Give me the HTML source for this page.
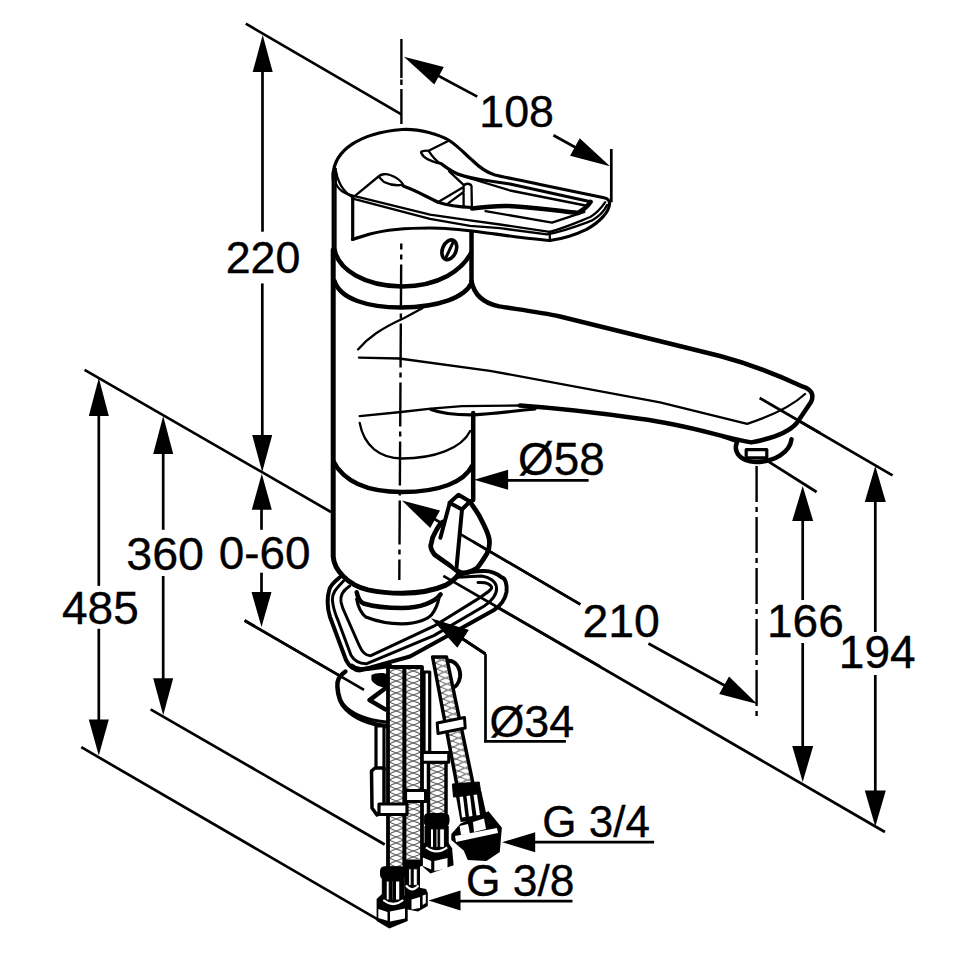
<!DOCTYPE html>
<html><head><meta charset="utf-8"><style>
html,body{margin:0;padding:0;background:#fff;width:970px;height:970px;overflow:hidden}
svg{display:block}
text{font-family:"Liberation Sans",sans-serif;fill:#000;stroke:#000;stroke-width:0.35px}
</style></head><body>
<svg width="970" height="970" viewBox="0 0 970 970">
<defs>
<pattern id="bA" x="389" y="0" width="14.5" height="6" patternUnits="userSpaceOnUse"><rect width="14.5" height="6" fill="#fff"/><path d="M0,0 L14.5,6 M14.5,0 L0,6" stroke="#222" stroke-width="0.8" fill="none"/><path d="M1,5.5 Q7.25,0.5 13.5,5.5" stroke="#888" stroke-width="0.8" fill="none"/></pattern>
<pattern id="bB" x="405.5" y="2" width="15.5" height="6" patternUnits="userSpaceOnUse"><rect width="15.5" height="6" fill="#fff"/><path d="M0,0 L15.5,6 M15.5,0 L0,6" stroke="#222" stroke-width="0.8" fill="none"/><path d="M1,5.5 Q7.75,0.5 14.5,5.5" stroke="#888" stroke-width="0.8" fill="none"/></pattern>
<pattern id="bC" x="429.5" y="1" width="15.5" height="6" patternUnits="userSpaceOnUse"><rect width="15.5" height="6" fill="#fff"/><path d="M0,0 L15.5,6 M15.5,0 L0,6" stroke="#222" stroke-width="0.8" fill="none"/><path d="M1,5.5 Q7.75,0.5 14.5,5.5" stroke="#888" stroke-width="0.8" fill="none"/></pattern>
<pattern id="bD" x="0" y="0" width="14" height="6" patternUnits="userSpaceOnUse" patternTransform="translate(434,657) skewX(12.2)"><rect width="14" height="6" fill="#fff"/><path d="M0,0 L14,6 M14,0 L0,6" stroke="#222" stroke-width="0.8" fill="none"/><path d="M1,5.5 Q7,0.5 13,5.5" stroke="#888" stroke-width="0.8" fill="none"/></pattern>
</defs>
<rect width="970" height="970" fill="#fff"/>
<g stroke="#000" stroke-width="2.7" fill="none"><line x1="245.8" y1="23.7" x2="401.4" y2="114.4"/><line x1="262.5" y1="50.0" x2="262.5" y2="231.7"/><line x1="262.3" y1="283.4" x2="262.3" y2="440.0"/><line x1="261.5" y1="500.0" x2="261.5" y2="529.8"/><line x1="261.5" y1="572.7" x2="261.5" y2="600.0"/><line x1="244.6" y1="620.5" x2="364.0" y2="689.9"/><line x1="84.6" y1="369.8" x2="331.0" y2="512.0"/><line x1="443.3" y1="575.9" x2="884.9" y2="832.0"/><line x1="98.8" y1="400.0" x2="98.8" y2="585.9"/><line x1="98.8" y1="628.8" x2="98.8" y2="730.0"/><line x1="81.3" y1="747.2" x2="388.0" y2="925.3"/><line x1="163.2" y1="440.0" x2="163.2" y2="529.8"/><line x1="163.2" y1="576.0" x2="163.2" y2="690.0"/><line x1="150.6" y1="709.3" x2="384.7" y2="844.5"/><line x1="420.0" y1="66.0" x2="477.3" y2="96.6"/><line x1="553.4" y1="135.3" x2="590.0" y2="155.5"/><line x1="611.3" y1="149.0" x2="611.3" y2="202.3"/><line x1="765.8" y1="459.9" x2="816.6" y2="492.0"/><line x1="802.7" y1="510.0" x2="802.7" y2="600.0"/><line x1="802.7" y1="643.0" x2="802.7" y2="760.0"/><line x1="759.6" y1="398.0" x2="892.5" y2="475.4"/><line x1="875.3" y1="490.0" x2="875.3" y2="632.0"/><line x1="875.3" y1="675.0" x2="875.3" y2="800.0"/><line x1="425.0" y1="513.5" x2="580.3" y2="604.3"/><line x1="648.4" y1="643.5" x2="740.0" y2="694.0"/><line x1="500.0" y1="480.4" x2="588.6" y2="480.4"/><line x1="450.0" y1="630.5" x2="485.5" y2="654.0"/><line x1="485.5" y1="654.0" x2="485.5" y2="741.4"/><line x1="484.0" y1="741.4" x2="565.9" y2="741.4"/><line x1="530.0" y1="842.2" x2="654.1" y2="842.2"/><line x1="455.0" y1="901.1" x2="572.5" y2="901.1"/></g>
<g fill="#000"><polygon points="262.7,35.0 272.7,72.0 252.7,72.0"/><polygon points="262.2,472.0 252.2,435.0 272.2,435.0"/><polygon points="261.8,473.7 271.8,509.7 251.8,509.7"/><polygon points="261.5,627.0 251.5,592.0 271.5,592.0"/><polygon points="98.8,378.0 108.8,416.0 88.8,416.0"/><polygon points="98.8,755.5 88.8,719.5 108.8,719.5"/><polygon points="163.2,416.0 173.2,454.0 153.2,454.0"/><polygon points="163.2,715.2 153.2,678.2 173.2,678.2"/><polygon points="403.9,56.7 443.8,67.0 434.3,84.6"/><polygon points="610.0,166.2 570.1,155.8 579.7,138.3"/><polygon points="802.7,486.0 813.2,521.0 792.2,521.0"/><polygon points="802.7,781.9 792.2,745.9 813.2,745.9"/><polygon points="875.3,466.0 885.8,502.0 864.8,502.0"/><polygon points="875.3,826.4 864.8,790.4 885.8,790.4"/><polygon points="402.0,500.6 440.0,510.5 430.2,528.0"/><polygon points="757.2,704.0 719.2,694.1 729.0,676.6"/><polygon points="474.1,479.8 508.1,469.8 508.1,489.8"/><polygon points="431.0,618.2 468.6,629.9 457.3,647.6"/><polygon points="502.2,842.2 535.2,832.2 535.2,852.2"/><polygon points="428.5,900.5 460.5,890.5 460.5,910.5"/></g>
<g stroke="none"><path d="M333,172 C334,150 360,133 402,129.5 C430,128 450,140 472,160 C485,171 495,175 540,184.5 L607,199 Q613,201 610,209 C606,218 595,226 575,234 C550,241 520,238 473,233 L473,281 C475,296 485,304 499,306.4 C515,309 540,312 560,316.5 L720,356 C750,364 780,376 803,386.7 Q816,391 811,402 L797,422.8 Q786,436 751.3,442.4 C720,437 690,425 640,418.7 C600,413 560,409 473,411 L473,560 C470,585 450,592 420,594.7 L333,594 Z" stroke-width="0" fill="#fff"/><path d="M339.8,577.3 L329.9,588.5 L327.4,600.8 L348.5,665.2 L357,669 L420,649 L496.6,607 L506.5,587.2 L501.6,577.3 L484.3,571.1 L459.5,574.9 Z" stroke-width="0" fill="#fff"/><path d="M343.6,671.3 C332,680 335,700 342.6,705.7 C350,716 370,724 390,726 L420,700 L400,668 Z" stroke-width="0" fill="#fff"/></g>
<g stroke="#000" fill="none" stroke-linecap="round" stroke-linejoin="round"><path d="M333.2,180 L333.2,175 C334,150 360,133 402,129.5 C420,128.5 440,135 449.2,140.5 C458,146 466,155 472,160 C480,168 488,173 495,175 C505,177.5 520,180 540,184.5 L604,197.8 Q610,199 609.5,204 C609,212 600,222 586.6,229.4 C575,235 562,239 550,240.5 C530,239 510,236 480,232 C460,229.5 440,228 430,228 C410,228 385,230 370,234 L352.5,239.4" stroke-width="3.2"/><path d="M352.7,198 L352.7,239.4" stroke-width="3.2"/><path d="M335.8,169 L335.8,183 C338,190 346,195 354.7,196.1 L430,214.6 L470,220.4 L500,224.5 L549.5,231.9 C565,228 580,221 590.3,217 C597,213 602,207 605.2,202.2" stroke-width="2.3"/><path d="M336.2,172 C339,187 346,193 354.7,199.2 L430,218.8 L470,225.8 L500,228.2 L547,234.4 C565,231 580,225 591.6,220.7 C598,217 604,212 607,205" stroke-width="2.3"/><path d="M335.5,185 L335.5,248" stroke-width="2.3"/><path d="M549.5,231.9 L550,240" stroke-width="2.3"/><path d="M354.7,196.1 L378.5,176.5 C381,174 386,173.5 390,175 C396,177 401,181 403.2,184.7 C396,186 390,185 384,182 L378.5,176.5" stroke-width="2.3"/><path d="M403.2,186 C415,190 425,196 438,202.2 C450,206 462,207 472,207.5" stroke-width="3.2"/><path d="M449.2,140.5 L428.6,150.8 C424,150.5 420,151 421.3,153 C423,157 428,161 440.9,163.7 C436,161 432,156 428.6,150.8" stroke-width="2.3"/><path d="M440.9,163.5 C447,168 452,172 458,174 C466,177 472,178.6 490,181 L510,184 L590.6,201.8" stroke-width="3.2"/><path d="M457.4,174.5 L510,190.5 L588,206" stroke-width="2.3"/><path d="M449.2,171.4 L463.6,184.8 M463.6,207 L463.6,186 C465,183 470,183 471.5,186 L471.9,207.5 M437.8,202.3 L463.6,186.9 M448.1,203.4 L463.6,192" stroke-width="2.3"/><path d="M472,208.5 C490,206 505,205.5 516.4,206.4 C540,208 560,211 578,213 C583,210 588,206 590.6,201.8" stroke-width="4.5"/><path d="M485.5,211.1 L552,222.7 L584.4,211.9" stroke-width="2.3"/><ellipse cx="449.3" cy="249.8" rx="6.8" ry="10.3" transform="rotate(22 449.3 249.8)" stroke-width="3.6"/><path d="M445.7,258.1 L453.4,241.6" stroke-width="3"/><path d="M471.5,232 L471.5,281" stroke-width="4.5"/><path d="M334.5,249 C338,270 365,286 402,286.5 C440,286 462,270 471,253" stroke-width="4.5"/><path d="M336.5,257.3 C340,264 343,267 346.4,268.8" stroke-width="2.3"/><path d="M334.5,281 C340,299 368,307.5 401,307.5 C440,307 465,297 471.5,283" stroke-width="4.5"/><path d="M333.2,172 L333.2,262" stroke-width="3.2"/><path d="M333.2,250 L333.2,556.7 C334,570 348,585 368,589.9 C380,592.5 390,593.3 402,593.3 C420,593 435,590 445.2,585.4 C452,582 456,578 458.8,574" stroke-width="5"/><path d="M471.5,281 C474,295 483,303 499.2,306.4 C515,309 540,312 560,316.5 L720,356 C750,364 780,376 802.9,386.7 Q816,391 811,402 L797,422.8 Q786,436 751.3,442.4 C720,437 690,425 640,418.7 C600,413 570,409 520,405.5" stroke-width="4.5"/><path d="M431,409.5 C440,413 455,415 474,414.8 C490,414 505,412 535,409" stroke-width="3.2"/><path d="M359.7,416.2 L401,412 L431,408.6 L461.9,406.1 L520,405.5" stroke-width="2.3"/><path d="M473.2,413 L473.2,500" stroke-width="4.5"/><path d="M358.9,357.6 L399.3,358.5 L490,370.8 L660,402.3 L747.2,423.8 C765,418 790,408 805,394" stroke-width="2.3"/><path d="M358,349.4 C368,338 380,329 404.2,318 C412,314 417,311 422.4,308.2" stroke-width="2.3"/><path d="M359.7,423 C364,446 380,458.5 402,458.5 C435,458.5 462,448 470.2,431" stroke-width="2.3"/><path d="M333.2,461 C345,484 372,492 402,492 C440,492 464,482 472,466" stroke-width="4.5"/><path d="M737,442.4 C733,452 740,461 755.5,462 C775,462 790,452 791.5,439.3" stroke-width="4.5"/><rect x="746.2" y="449.6" width="20.6" height="8.2" stroke-width="3.2"/><path d="M722.5,437.2 L737,442.4" stroke-width="2"/><path d="M339.8,577.3 C334,582 330,586 329.2,590 C327,597 327,608 330,617 L346,660 C349,666 353,670 360,670.4 L410,656.5 L459.5,629.3 L494,610 C500,606 505,600 506.5,592 C507.5,584 505,578 501.6,577.3 C496,573 490,571 484.3,571.1 C475,571 465,573 459.5,574.9" stroke-width="4"/><path d="M343.5,581 C336,589 332,593 332.4,600 C333,608 336,616 338.6,621.9 L351,655.3 C355,662 360,664 366.8,663.7 L433.8,635.6 L484.3,606 C492,601 497,594 496.6,588 C496,581 489,577 481.8,576.1 L457,577.3" stroke-width="3"/><path d="M349.7,586 C342,591 340,596 341,602 C342,606 343,609 344,611 L359,645 C362,652 366,656 370.8,655.7 L433.8,626.2 L476.8,599.6 C485,594 492,590 491.7,587.2 C490,583 485,582 478,582.5" stroke-width="3"/><path d="M356.7,592.2 C358,598 360,602 363.5,603.5 C375,607 390,608 402,608 C420,608 435,602 440.6,594.4" stroke-width="4.5"/><path d="M356.7,599 C358,607 361,613 365.8,617.1 C378,622 390,623.9 402,623.9 C418,623.5 428,619 431.6,614.8 C436,609 438,603 439,598" stroke-width="3.2"/><path d="M345.4,671.5 C339,676 337,680 337.4,687 C338,697 341,704 346,709 C355,718 370,724 386,726" stroke-width="4.5"/><path d="M342,703 C350,713 365,720 386,722" stroke-width="3.2"/><path d="M384.4,689 L369.5,700.1 L385.3,709.4" stroke-width="4.5"/><path d="M371.4,675 C375,673 385,672 388,675 L388,688 C382,688 374,685 371.4,680 Z" fill="#000" stroke="none"/><path d="M351.9,665.8 C356,670 362,669.5 369.5,668.6 L390,665.8" stroke-width="4.5"/></g>
<g stroke="#000" stroke-width="2.7" fill="none"><line x1="425.0" y1="513.5" x2="580.3" y2="604.3"/><line x1="443.3" y1="575.9" x2="600.0" y2="666.4"/><line x1="450.0" y1="630.5" x2="485.5" y2="654.0"/><line x1="759.6" y1="398.0" x2="820.0" y2="433.0"/><line x1="244.6" y1="620.5" x2="364.0" y2="689.9"/></g>
<g fill="#000"><polygon points="402.0,500.6 440.0,510.5 430.2,528.0"/><polygon points="431.0,618.2 468.6,629.9 457.3,647.6"/></g>
<g stroke="#000" fill="none" stroke-linecap="round" stroke-linejoin="round"><path d="M469.9,501.5 C474,508 478,513 480.1,517.4 C484,525 488,532 489.2,539 C490,545 489,550 486.9,553.7 C483,560 480,565 476.7,568.4 C472,571 468,573 463.1,573 C459,573 457,571 454,568.4 L434.7,554.8 C431,550 430,546 431.3,543.5 C432,537 434,534 435.9,531 C438,527 440,524 442.7,522" stroke-width="4.8"/><path d="M449.5,503.8 L462,509.5 L456.3,569.6 L440,548 L440.4,537.8 Z" stroke-width="0" fill="#fff"/><path d="M449.5,502.7 L458.5,494.7 L469.9,501.5 L462,509.5 Z M449.5,503.8 L440.4,537.8 M462,509.5 L456.3,569.6" stroke-width="4"/></g>
<g stroke="#000" stroke-width="2.4" fill="none"><line x1="401.4" y1="39.0" x2="401.4" y2="78.0"/><line x1="401.4" y1="79.5" x2="401.4" y2="85.0"/><line x1="401.4" y1="89.0" x2="401.4" y2="124.0"/><line x1="401.3" y1="243.5" x2="399.3" y2="580" stroke-dasharray="44 5 5 5" stroke-dashoffset="38"/><line x1="756.6" y1="466.0" x2="756.6" y2="502.0"/><line x1="756.6" y1="507.0" x2="756.6" y2="512.0"/><line x1="756.6" y1="517.0" x2="756.6" y2="553.0"/><line x1="756.6" y1="558.0" x2="756.6" y2="563.0"/><line x1="756.6" y1="568.0" x2="756.6" y2="604.0"/><line x1="756.6" y1="609.0" x2="756.6" y2="614.0"/><line x1="756.6" y1="619.0" x2="756.6" y2="655.0"/><line x1="756.6" y1="660.0" x2="756.6" y2="665.0"/><line x1="756.6" y1="670.0" x2="756.6" y2="706.0"/><line x1="756.6" y1="711.0" x2="756.6" y2="716.0"/></g>
<g stroke-linejoin="round" stroke="#000" fill="none"><polygon points="376.0,726.0 384.0,726.0 384.0,770.0 376.0,770.0" fill="#fff" stroke="#000" stroke-width="3.2"/><polygon points="371.5,771.0 375.0,768.0 384.0,768.0 384.0,808.0 377.0,815.0 372.0,808.0" fill="#fff" stroke="#000" stroke-width="3.5"/><path d="M446,661 C455,659 461,668 460,677 C459,684 455,688 450,688" stroke-width="4"/><polygon points="432.6,657.0 446.5,657.0 473.4,785.4 457.0,785.4" fill="url(#bD)" stroke="#000" stroke-width="3.5"/><polygon points="424.0,672.0 429.7,672.0 429.7,752.4 424.0,752.4" fill="#fff" stroke="#000" stroke-width="3.2"/><polygon points="428.5,762.0 446.0,762.0 446.0,822.0 428.5,822.0" fill="url(#bC)" stroke="#000" stroke-width="3.5"/><polygon points="388.0,667.0 404.5,667.0 404.5,870.0 388.0,870.0" fill="url(#bA)" stroke="#000" stroke-width="3.8"/><polygon points="404.5,667.0 422.0,667.0 422.0,864.0 404.5,864.0" fill="url(#bB)" stroke="#000" stroke-width="3.8"/><polygon points="379.0,804.0 407.0,804.0 407.0,814.5 379.0,814.5" fill="#fff" stroke="#000" stroke-width="3.2"/><polygon points="405.5,790.5 425.6,790.5 425.6,801.5 405.5,801.5" fill="#fff" stroke="#000" stroke-width="3.2"/><polygon points="422.3,752.4 448.7,752.4 448.7,762.3 422.3,762.3" fill="#fff" stroke="#000" stroke-width="3"/><polygon points="437.2,723.0 464.5,717.5 465.2,728.0 438.0,733.5" fill="#fff" stroke="#000" stroke-width="3"/><rect x="380.5" y="866.7" width="24.5" height="12.3" rx="4" fill="#000"/><rect x="382.3" y="878" width="21.9" height="26.0" fill="#000"/><polygon points="376.6,899.0 382.0,894.0 404.0,895.0 407.7,900.0 407.7,921.0 389.3,928.5 376.6,921.0" fill="#000" stroke="#000" stroke-width="0"/><rect x="386.2" y="881.0" width="3.0" height="19.0" fill="#fff"/><rect x="391.5" y="881.0" width="1.3" height="19.0" fill="#fff"/><rect x="395.5" y="881.0" width="4.3" height="19.0" fill="#fff"/><path d="M383.3,900 Q393.25,908 403.2,900" stroke="#fff" stroke-width="2.2" fill="none"/><polygon points="378.3,909.0 387.5,912.0 387.5,920.8 378.3,918.0" fill="#fff" stroke="#000" stroke-width="0"/><polygon points="390.0,911.5 405.0,908.5 405.0,918.5 390.0,921.5" fill="#fff" stroke="#000" stroke-width="0"/><rect x="403.5" y="860" width="18.0" height="7.0" rx="4" fill="#000"/><rect x="405" y="865.8" width="14.5" height="23.6" fill="#000"/><polygon points="405.0,890.0 411.0,886.0 426.0,889.0 427.8,893.0 427.8,906.0 418.0,911.5 405.0,909.0" fill="#000" stroke="#000" stroke-width="0"/><rect x="408.6" y="868.8" width="2.6" height="16.6" fill="#fff"/><rect x="413.2" y="868.8" width="4.1" height="16.6" fill="#fff"/><path d="M406,885.4 Q412.25,893.4 418.5,885.4" stroke="#fff" stroke-width="2.2" fill="none"/><polygon points="411.5,899.5 420.0,897.0 420.0,908.0 411.5,909.5" fill="#fff" stroke="#000" stroke-width="0"/><polygon points="422.6,895.6 425.8,894.5 425.8,903.0 422.6,905.0" fill="#fff" stroke="#000" stroke-width="0"/><rect x="424.3" y="813.5" width="24.7" height="12.5" rx="4" fill="#000"/><rect x="425" y="825.9" width="23.2" height="25.5" fill="#000"/><polygon points="422.0,844.4 428.0,841.0 448.0,842.0 452.1,848.3 453.6,865.3 430.5,873.5 422.7,866.8" fill="#000" stroke="#000" stroke-width="0"/><rect x="430.5" y="828.9" width="3.0" height="18.5" fill="#fff"/><rect x="436" y="828.9" width="2.0" height="18.5" fill="#fff"/><rect x="439.7" y="828.9" width="4.7" height="18.5" fill="#fff"/><path d="M426,847.4 Q436.6,855.4 447.2,847.4" stroke="#fff" stroke-width="2.2" fill="none"/><polygon points="422.9,857.5 431.2,861.0 431.2,869.5 422.9,866.0" fill="#fff" stroke="#000" stroke-width="0"/><polygon points="434.3,861.0 447.5,858.0 447.5,868.5 434.3,871.0" fill="#fff" stroke="#000" stroke-width="0"/><path d="M452.4,784 L479.2,782 L481,794 L453.5,797 Z" fill="#000"/><polygon points="455.5,793.7 481.2,791.0 487.4,819.0 460.6,822.0" fill="#000" stroke="#000" stroke-width="0"/><polygon points="459.5,797.0 463.0,796.5 465.5,817.0 462.0,817.5" fill="#fff" stroke="#000" stroke-width="0"/><polygon points="466.5,796.0 470.0,795.5 472.5,816.0 469.0,816.5" fill="#fff" stroke="#000" stroke-width="0"/><polygon points="473.5,795.0 477.0,794.5 480.0,815.0 476.5,815.5" fill="#fff" stroke="#000" stroke-width="0"/><polygon points="451.3,833.9 460.6,823.6 488.5,811.2 501.9,827.7 500.8,840.0 499.8,852.0 486.4,861.0 467.8,860.0 463.7,850.4 451.3,840.0" fill="#000" stroke="#000" stroke-width="0"/><polygon points="459.6,826.0 468.0,824.0 470.0,834.0 461.0,835.0" fill="#fff" stroke="#000" stroke-width="0"/><polygon points="473.0,822.0 484.0,818.5 486.0,829.0 474.0,832.0" fill="#fff" stroke="#000" stroke-width="0"/><polygon points="455.0,836.0 497.0,828.0 498.0,833.0 456.0,842.0" fill="#fff" stroke="#000" stroke-width="0"/><path d="M465,843 L497,836" stroke="#000" stroke-width="1.6"/></g>
<g><text x="225.7" y="272.6" font-size="44.78">220</text><text x="479.3" y="127.4" font-size="44.78">108</text><text x="518.0" y="474.5" font-size="45.83">Ø58</text><text x="126.3" y="569.7" font-size="46.6">360</text><text x="218.8" y="568.7" font-size="45.9">0-60</text><text x="62.0" y="624.0" font-size="46.02">485</text><text x="582.5" y="637.3" font-size="46.4">210</text><text x="767.0" y="636.6" font-size="46.0">166</text><text x="838.8" y="667.9" font-size="46.0">194</text><text x="489.5" y="736.9" font-size="44.82">Ø34</text><text x="542.3" y="836.9" font-size="43.97">G 3/4</text><text x="466.0" y="895.6" font-size="44.34">G 3/8</text></g>
</svg>
</body></html>
